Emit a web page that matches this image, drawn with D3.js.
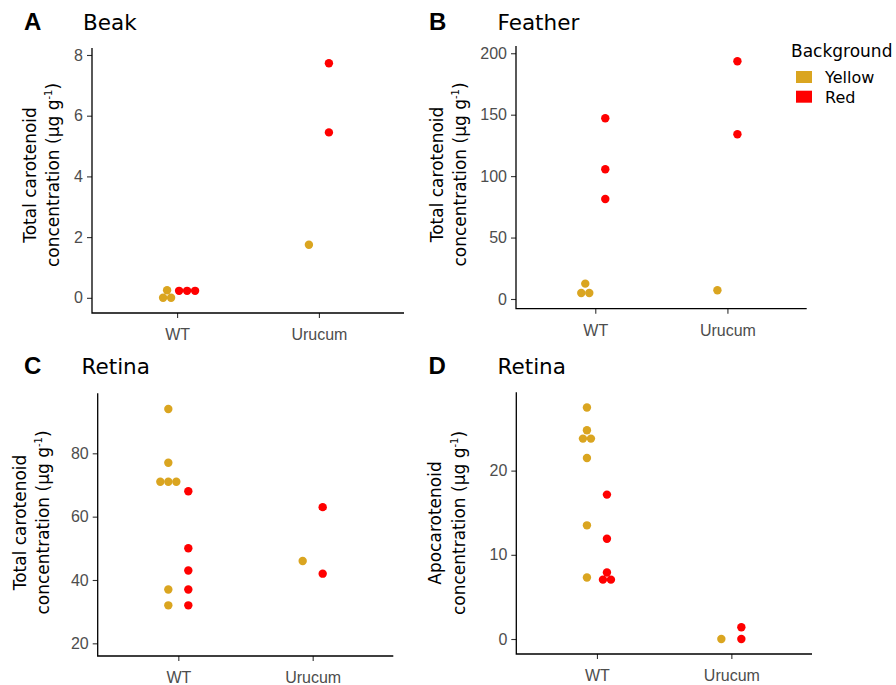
<!DOCTYPE html>
<html>
<head>
<meta charset="utf-8">
<script src="https://cdn.jsdelivr.net/npm/d3@7/dist/d3.min.js"></script>
<style>
  body { margin: 0; background: #fff; }
  svg { display: block; font-family: "DejaVu Sans", Verdana, sans-serif; }
  .tick-lab { font-size: 16px; fill: #4d4d4d; }
  .ax-title { font-size: 17px; fill: #000; }
  .p-title { font-size: 21.5px; fill: #000; }
  .p-tag { font-family: "Liberation Sans", Arial, sans-serif; font-weight: bold; font-size: 24px; fill: #000; }
</style>
</head>
<body>
<svg id="chart" width="896" height="685"></svg>
<script>
// Dot plots of carotenoid concentration, four panels.

const categories = ["WT", "Urucum"];
const backgrounds = ["Yellow", "Red"];
const bgColors = ["#DAA520", "#FF0000"];

// per panel: background -> category -> values
const beak = {
  Yellow: { WT: [0, 0, 0.25], Urucum: [1.75] },
  Red: { WT: [0.23, 0.23, 0.23], Urucum: [5.45, 7.73] },
};
const feather = {
  Yellow: { WT: [4.9, 4.9, 12.5], Urucum: [7.1] },
  Red: { WT: [81.4, 105.6, 147.1], Urucum: [134.1, 193.5] },
};
const retinaTotal = {
  Yellow: { WT: [32, 37, 71, 71, 71, 77, 94], Urucum: [46] },
  Red: { WT: [32, 37, 43, 50, 68], Urucum: [42, 63] },
};
const retinaApo = {
  Yellow: { WT: [7.3, 13.5, 21.5, 23.8, 23.8, 24.8, 27.5], Urucum: [0] },
  Red: { WT: [7.05, 7.05, 7.9, 11.9, 17.15], Urucum: [0, 1.4] },
};

const beakTicks = [0, 2, 4, 6, 8];
const featherTicks = [0, 50, 100, 150, 200];
const retinaTotalTicks = [20, 40, 60, 80];
const retinaApoTicks = [0, 10, 20];

const totalLab = "Total carotenoid";
const apoLab = "Apocarotenoid";

const R = 4.2;       // dot radius
const DODGE = 10;    // px offset per background
const STACK = 8;     // px between equal values

const panels = [
  { tag: "A", title: "Beak", data: beak, ticks: beakTicks, lab: totalLab,
    box: { l: 92, r: 404, t: 48, b: 313 }, dom: [-0.5, 8.23],
    tagX: 24, titleX: 83, headY: 29.5, labX: [36, 58.5], labY: 175 },
  { tag: "B", title: "Feather", data: feather, ticks: featherTicks, lab: totalLab,
    box: { l: 516, r: 806.7, t: 46, b: 308.7 }, dom: [-7.9, 205.9],
    tagX: 429, titleX: 497.5, headY: 29.5, labX: [443, 466], labY: 174.5 },
  { tag: "C", title: "Retina", data: retinaTotal, ticks: retinaTotalTicks, lab: totalLab,
    box: { l: 97.7, r: 393.3, t: 393.3, b: 656 }, dom: [16, 98.95],
    tagX: 24, titleX: 81.5, headY: 373.5, labX: [26, 49], labY: 522.5 },
  { tag: "D", title: "Retina", data: retinaApo, ticks: retinaApoTicks, lab: apoLab,
    box: { l: 516.3, r: 812, t: 392.3, b: 654 }, dom: [-1.78, 29.3],
    tagX: 428.5, titleX: 497.5, headY: 373.5, labX: [441, 464.5], labY: 523 },
];

const svg = d3.select("#chart");

// equal values within a group sit side by side, centred
function stack(values) {
  const counts = d3.rollup(values, (v) => v.length, (v) => v);
  const seen = new Map();
  return values.map((v) => {
    const k = counts.get(v);
    const i = seen.get(v) || 0;
    seen.set(v, i + 1);
    return { v, off: (i - (k - 1) / 2) * STACK };
  });
}

for (const p of panels) {
  const { box } = p;
  const g = svg.append("g");
  const x = d3.scalePoint().domain(categories).range([box.l, box.r]).padding(0.6);
  const y = d3.scaleLinear().domain(p.dom).range([box.b, box.t]);

  // y axis
  const yAx = g.append("g").attr("transform", `translate(${box.l},0)`)
    .call(d3.axisLeft(y).tickValues(p.ticks).tickSize(5).tickPadding(4).tickFormat(d3.format("d")));
  yAx.select(".domain").remove();
  yAx.selectAll(".tick line").attr("stroke", "#333").attr("stroke-width", 1.1);
  yAx.selectAll(".tick text").attr("class", "tick-lab").attr("font-family", null).attr("font-size", null)
    .attr("fill", null);

  // x axis
  const xAx = g.append("g").attr("transform", `translate(0,${box.b})`)
    .call(d3.axisBottom(x).tickSize(5).tickPadding(11));
  xAx.select(".domain").remove();
  xAx.selectAll(".tick line").attr("stroke", "#333").attr("stroke-width", 1.1);
  xAx.selectAll(".tick text").attr("class", "tick-lab").attr("font-family", null).attr("font-size", null)
    .attr("fill", null);

  // L-shaped axis lines
  g.append("path")
    .attr("d", `M${box.l},${box.t}V${box.b}H${box.r}`)
    .attr("fill", "none").attr("stroke", "#000").attr("stroke-width", 1.3);

  // points
  const pts = [];
  backgrounds.forEach((bg, bi) => {
    for (const c of categories) {
      for (const s of stack(p.data[bg][c])) {
        pts.push({ cat: c, bg: bi, v: s.v, off: s.off });
      }
    }
  });
  g.append("g").selectAll("circle").data(pts).join("circle")
    .attr("cx", (d) => x(d.cat) + (d.bg === 0 ? -DODGE : DODGE) + d.off)
    .attr("cy", (d) => y(d.v))
    .attr("r", R)
    .attr("fill", (d) => bgColors[d.bg]);

  // headings
  g.append("text").attr("class", "p-tag").attr("x", p.tagX).attr("y", p.headY).text(p.tag);
  g.append("text").attr("class", "p-title").attr("x", p.titleX).attr("y", p.headY).text(p.title);

  // y title, two lines
  g.append("text").attr("class", "ax-title").attr("text-anchor", "middle")
    .attr("transform", `translate(${p.labX[0]},${p.labY}) rotate(-90)`)
    .text(p.lab);
  const t2 = g.append("text").attr("class", "ax-title").attr("text-anchor", "middle")
    .attr("transform", `translate(${p.labX[1]},${p.labY}) rotate(-90)`);
  t2.append("tspan").text("concentration (µg g");
  t2.append("tspan").attr("font-size", 10).attr("dy", -7).text("-1");
  t2.append("tspan").attr("dy", 7).text(")");
}

// legend
const leg = svg.append("g").attr("transform", "translate(791,0)");
leg.append("text").attr("x", 0).attr("y", 56.5).attr("font-size", 17).text("Background");
backgrounds.forEach((bg, i) => {
  leg.append("rect").attr("x", 5).attr("y", 71 + i * 19.7).attr("width", 16).attr("height", 12)
    .attr("fill", bgColors[i]);
  leg.append("text").attr("x", 34).attr("y", 83 + i * 19.7).attr("font-size", 16).text(bg);
});
</script>
</body>
</html>
